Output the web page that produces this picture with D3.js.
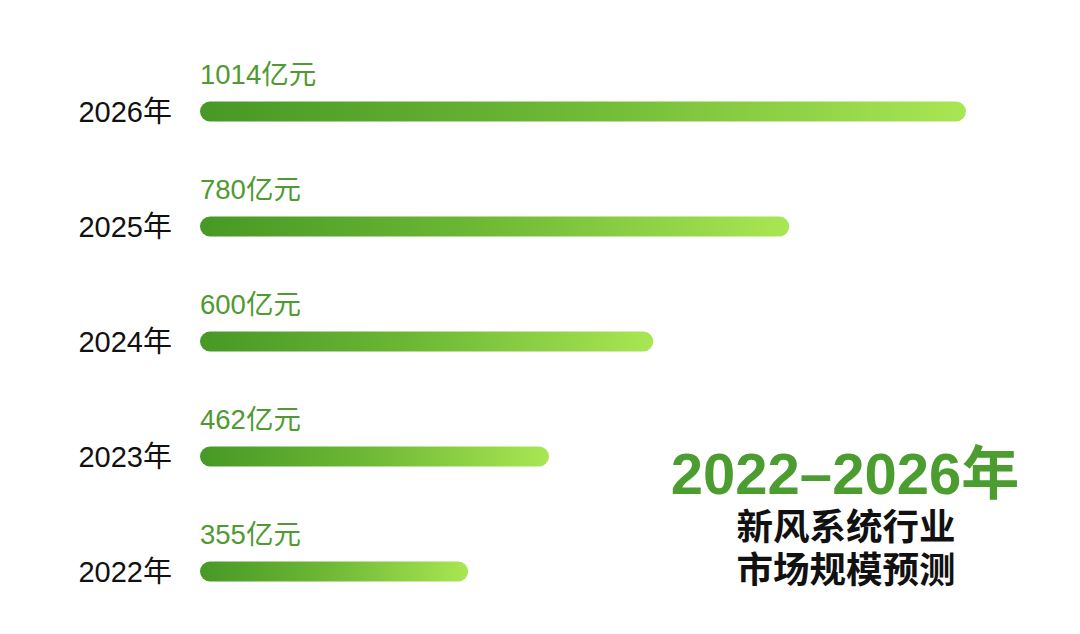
<!DOCTYPE html>
<html><head><meta charset="utf-8">
<script src="https://cdn.jsdelivr.net/npm/d3@7"></script>
<style>
html,body{margin:0;padding:0;background:#fff;}
svg{display:block;}
text{font-family:"Liberation Sans","Noto Sans CJK SC",sans-serif;}
</style></head>
<body>
<svg id="chart" width="1080" height="634"></svg>
<script>
const years = ["2026年","2025年","2024年","2023年","2022年"];
const values = [1014, 780, 600, 462, 355];
const valueLabels = ["1014亿元","780亿元","600亿元","462亿元","355亿元"];
const titleMain = "2022–2026年";
const titleSub = ["新风系统行业","市场规模预测"];

const svg = d3.select("#chart");
const barH = 20;
const x = d3.scaleLinear().domain([0, 1014]).range([200, 966]);
const y = d3.scaleBand().domain(years).range([54, 629]).paddingInner(0).paddingOuter(0);

const defs = svg.append("defs");
const grad = defs.append("linearGradient").attr("id","barGrad")
  .attr("x1","0%").attr("y1","0%").attr("x2","100%").attr("y2","0%");
grad.append("stop").attr("offset","0%").attr("stop-color","#479826");
grad.append("stop").attr("offset","45%").attr("stop-color","#6bb634");
grad.append("stop").attr("offset","100%").attr("stop-color","#a9e653");

const rows = svg.selectAll("g.row").data(years.map((yr,i)=>({yr, v:values[i], lab:valueLabels[i]})))
  .enter().append("g").attr("class","row")
  .attr("transform", d => `translate(0,${y(d.yr) + y.bandwidth()/2})`);

rows.append("rect")
  .attr("x", x(0)).attr("y", -barH/2)
  .attr("width", d => x(d.v) - x(0)).attr("height", barH)
  .attr("rx", barH/2).attr("ry", barH/2)
  .attr("fill","url(#barGrad)");

rows.append("text")
  .attr("x", 172).attr("y", 10.5)
  .attr("text-anchor","end")
  .attr("font-size", 29).attr("fill","#111")
  .text(d => d.yr);

rows.append("text")
  .attr("x", x(0)).attr("y", -28)
  .attr("font-size", 27.5).attr("fill","#4f9a31")
  .text(d => d.lab);

svg.append("text")
  .attr("x", 845).attr("y", 494)
  .attr("text-anchor","middle")
  .attr("font-size", 58).attr("font-weight","bold").attr("fill","#4a9d2e")
  .text(titleMain);

svg.selectAll("text.sub").data(titleSub).enter().append("text")
  .attr("class","sub")
  .attr("x", 846).attr("y", (d,i) => 540 + i*43)
  .attr("text-anchor","middle")
  .attr("font-size", 36.5).attr("font-weight","bold").attr("fill","#111")
  .text(d => d);
</script>
</body></html>
